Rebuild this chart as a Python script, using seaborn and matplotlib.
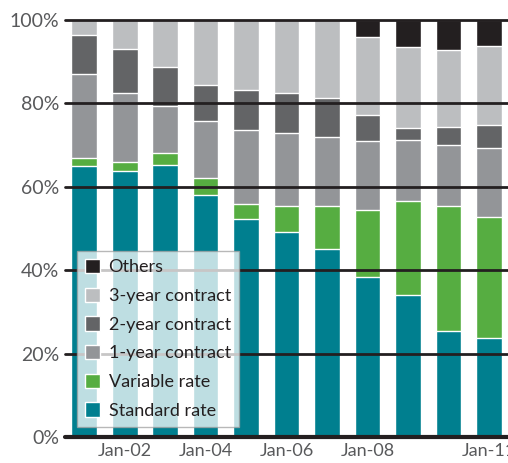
import numpy as np
import pandas as pd
import matplotlib
matplotlib.use("Agg")
import matplotlib.pyplot as plt
import seaborn as sns

# --- datos (porcentaje de cada tipo de contrato, enero de cada año) ---
years = ["Jan-01", "Jan-02", "Jan-03", "Jan-04", "Jan-05", "Jan-06",
         "Jan-07", "Jan-08", "Jan-09", "Jan-10", "Jan-11"]
standard_rate = [65.0, 63.8, 65.2, 58.0, 52.3, 49.2, 45.1, 38.4, 34.1, 25.4, 23.7]
variable_rate = [2.0, 2.1, 2.9, 4.1, 3.6, 6.2, 10.3, 16.0, 22.5, 30.0, 29.1]
one_year = [20.0, 16.6, 11.3, 13.7, 17.7, 17.5, 16.5, 16.6, 14.6, 14.6, 16.5]
two_year = [9.4, 10.5, 9.3, 8.6, 9.6, 9.6, 9.4, 6.2, 2.9, 4.3, 5.5]
three_year = [3.6, 7.0, 11.3, 15.6, 16.8, 17.5, 18.7, 18.7, 19.4, 18.5, 19.0]
others = [0.0, 0.0, 0.0, 0.0, 0.0, 0.0, 0.0, 4.1, 6.5, 7.2, 6.2]

shown_ticks = ["Jan-02", "Jan-04", "Jan-06", "Jan-08", "Jan-11"]
y_ticks = [0, 20, 40, 60, 80, 100]

series = [
    ("Standard rate", standard_rate, "#007f8f"),
    ("Variable rate", variable_rate, "#56ad41"),
    ("1-year contract", one_year, "#939598"),
    ("2-year contract", two_year, "#636466"),
    ("3-year contract", three_year, "#bcbec0"),
    ("Others", others, "#231f20"),
]

df = pd.DataFrame({name: vals for name, vals, _ in series}, index=years)
df = df.div(df.sum(axis=1), axis=0) * 100
cum = df.cumsum(axis=1)

sns.set_theme(style="white")
plt.rcParams["font.family"] = ["Lato", "DejaVu Sans"]
text_color = "#58595b"

fig = plt.figure(figsize=(5.08, 4.63), dpi=100)
ax = fig.add_axes([0.128, 0.056, 0.872, 0.901])

# barras acumuladas: de la más alta a la más baja para que se superpongan
for name, _, color in reversed(series):
    sns.barplot(x=years, y=cum[name].values, order=years, color=color,
                saturation=1, width=0.64, label=name, ax=ax, zorder=1)

for t in y_ticks:
    ax.axhline(t, color="#231f20", lw=3 if t == 0 else 2, zorder=3, clip_on=False)

ax.set_ylim(0, 100)
ax.set_xlim(-0.47, len(years) - 0.53)
ax.set_yticks(y_ticks)
ax.set_yticklabels([f"{t}%" for t in y_ticks], fontsize=14, color=text_color)
ax.set_xticks([years.index(y) for y in shown_ticks])
ax.set_xticklabels(shown_ticks, fontsize=13, color=text_color)
ax.tick_params(axis="both", length=0, pad=4)
ax.set_xlabel("")
ax.set_ylabel("")
for s in ax.spines.values():
    s.set_visible(False)

leg = ax.legend(loc="lower left", bbox_to_anchor=(0.027, 0.024), borderaxespad=0,
                fontsize=13, handlelength=0.85, handleheight=0.85, handletextpad=0.45,
                labelspacing=0.68, frameon=True, fancybox=False,
                facecolor="white", edgecolor="#a0a0a0", framealpha=0.75,
                borderpad=0.45)
leg.set_zorder(5)
for txt in leg.get_texts():
    txt.set_color("#231f20")

fig.savefig("out.png", dpi=100)
